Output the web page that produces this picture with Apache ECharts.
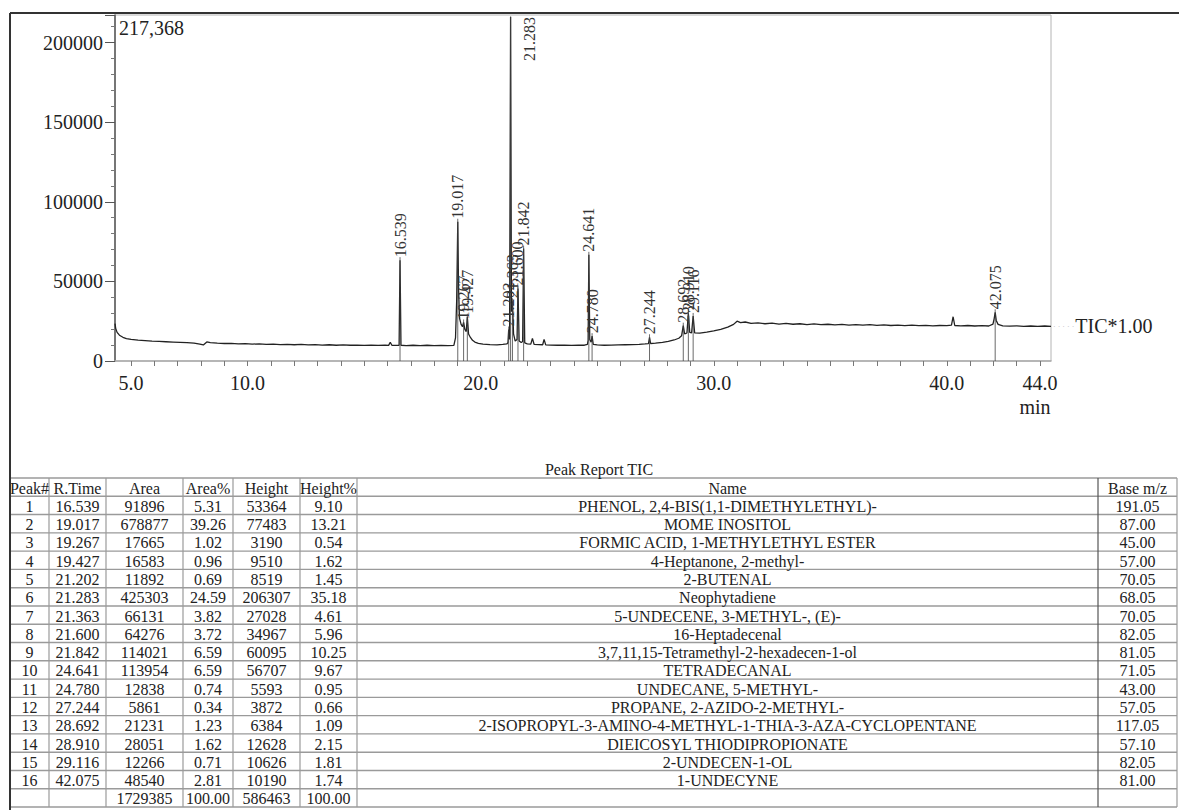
<!DOCTYPE html>
<html>
<head>
<meta charset="utf-8">
<title>TIC chromatogram - peak report</title>
<script src="https://cdn.jsdelivr.net/npm/echarts@6/dist/echarts.min.js"></script>
<style>
  html, body { margin: 0; padding: 0; background: #fff; }
  #chart { width: 1179px; height: 810px; }
</style>
</head>
<body>
<div id="chart"></div>
<script>
// TIC trace: [retention time (min), counts]
const ticTrace = [
  [4.31, 23500], [4.34, 20500], [4.40, 18000], [4.50, 16200], [4.65, 14900], [4.80, 14100],
  [5.00, 13600], [5.30, 13100], [5.60, 12800], [5.90, 12500], [6.20, 12300], [6.50, 12100],
  [6.80, 11900], [7.10, 11700], [7.40, 11500], [7.70, 11200], [7.95, 10600], [8.10, 10100],
  [8.25, 12000], [8.40, 11500], [8.70, 11200], [9.00, 11000], [9.30, 11100], [9.60, 10800],
  [9.90, 10900], [10.20, 10600], [10.50, 10800], [10.80, 10500], [11.10, 10600], [11.40, 10300],
  [11.70, 10500], [12.00, 10200], [12.30, 10400], [12.60, 10100], [12.90, 10300], [13.20, 10000],
  [13.50, 10200], [13.80, 9900], [14.10, 10100], [14.40, 9900], [14.70, 10000], [15.00, 9800],
  [15.30, 10000], [15.60, 9800], [15.90, 9900], [16.05, 9800], [16.12, 11800], [16.19, 9900],
  [16.45, 9800], [16.50, 9900], [16.539, 63364], [16.58, 9900], [16.80, 9700], [17.10, 9900],
  [17.40, 9700], [17.70, 9900], [18.00, 9700], [18.30, 9800], [18.60, 9700], [18.85, 9800],
  [18.92, 14500], [18.97, 38000], [19.017, 87483], [19.05, 46000], [19.09, 27000], [19.16, 23000],
  [19.22, 21500], [19.267, 24200], [19.32, 19800], [19.38, 18500], [19.427, 27800], [19.48, 17000],
  [19.56, 14800], [19.65, 13000], [19.75, 11900], [19.90, 11100], [20.10, 10600], [20.40, 10300],
  [20.70, 10100], [20.95, 10400], [21.12, 10700], [21.17, 11500], [21.202, 19800], [21.24, 13500],
  [21.283, 216300], [21.32, 31000], [21.363, 37500], [21.41, 17000], [21.48, 12500], [21.56, 13500],
  [21.600, 45500], [21.65, 12600], [21.74, 11600], [21.80, 12200], [21.842, 70600], [21.89, 11400],
  [22.00, 10800], [22.15, 10600], [22.22, 14200], [22.29, 10500], [22.50, 10300], [22.66, 10200],
  [22.72, 13600], [22.79, 10100], [23.00, 10000], [23.30, 9900], [23.60, 10000], [23.90, 9800],
  [24.20, 9900], [24.45, 9900], [24.58, 10500], [24.61, 13000], [24.641, 66700], [24.68, 13500],
  [24.74, 11800], [24.780, 15600], [24.83, 10500], [25.00, 10100], [25.30, 9900], [25.60, 10000],
  [25.90, 10100], [26.20, 10200], [26.50, 10300], [26.80, 10500], [27.05, 10700], [27.20, 10900],
  [27.244, 14900], [27.29, 11000], [27.50, 11200], [27.80, 11700], [28.05, 12300], [28.30, 13200],
  [28.50, 14300], [28.62, 15800], [28.692, 22200], [28.75, 17000], [28.85, 17600], [28.910, 30000],
  [28.97, 18000], [29.05, 17700], [29.116, 28300], [29.18, 17700], [29.40, 17500], [29.70, 18100],
  [30.00, 18900], [30.30, 19900], [30.60, 21300], [30.85, 23000], [31.00, 25000], [31.15, 24100],
  [31.35, 24500], [31.60, 23700], [31.90, 24000], [32.20, 23400], [32.50, 23800], [32.80, 23200],
  [33.10, 23600], [33.40, 23100], [33.70, 23400], [34.00, 22900], [34.30, 23300], [34.60, 22800],
  [34.90, 23100], [35.20, 22700], [35.50, 23000], [35.80, 22600], [36.10, 22900], [36.40, 22500],
  [36.70, 22800], [37.00, 22400], [37.30, 22700], [37.60, 22300], [37.90, 22600], [38.20, 22200],
  [38.50, 22500], [38.80, 22200], [39.10, 22400], [39.40, 22100], [39.70, 22300], [40.00, 22200],
  [40.20, 22600], [40.27, 27800], [40.34, 22300], [40.60, 22100], [40.90, 22300], [41.20, 22000],
  [41.50, 22200], [41.80, 22000], [41.98, 23200], [42.03, 26500], [42.075, 30600], [42.12, 25500],
  [42.20, 23000], [42.40, 22100], [42.70, 21900], [43.00, 22100], [43.30, 21800], [43.60, 22000],
  [43.90, 21800], [44.20, 22000], [44.47, 21800]
]

// peak report table
const peakNo = [1, 2, 3, 4, 5, 6, 7, 8, 9, 10, 11, 12, 13, 14, 15, 16]
const retTime = [16.539, 19.017, 19.267, 19.427, 21.202, 21.283, 21.363, 21.600,
  21.842, 24.641, 24.780, 27.244, 28.692, 28.910, 29.116, 42.075]
const peakArea = [91896, 678877, 17665, 16583, 11892, 425303, 66131, 64276,
  114021, 113954, 12838, 5861, 21231, 28051, 12266, 48540]
const areaPct = [5.31, 39.26, 1.02, 0.96, 0.69, 24.59, 3.82, 3.72,
  6.59, 6.59, 0.74, 0.34, 1.23, 1.62, 0.71, 2.81]
const peakHeight = [53364, 77483, 3190, 9510, 8519, 206307, 27028, 34967,
  60095, 56707, 5593, 3872, 6384, 12628, 10626, 10190]
const heightPct = [9.10, 13.21, 0.54, 1.62, 1.45, 35.18, 4.61, 5.96,
  10.25, 9.67, 0.95, 0.66, 1.09, 2.15, 1.81, 1.74]
const peakName = [
  'PHENOL, 2,4-BIS(1,1-DIMETHYLETHYL)-',
  'MOME INOSITOL',
  'FORMIC ACID, 1-METHYLETHYL ESTER',
  '4-Heptanone, 2-methyl-',
  '2-BUTENAL',
  'Neophytadiene',
  '5-UNDECENE, 3-METHYL-, (E)-',
  '16-Heptadecenal',
  '3,7,11,15-Tetramethyl-2-hexadecen-1-ol',
  'TETRADECANAL',
  'UNDECANE, 5-METHYL-',
  'PROPANE, 2-AZIDO-2-METHYL-',
  '2-ISOPROPYL-3-AMINO-4-METHYL-1-THIA-3-AZA-CYCLOPENTANE',
  'DIEICOSYL THIODIPROPIONATE',
  '2-UNDECEN-1-OL',
  '1-UNDECYNE'
]
const baseMz = [191.05, 87.00, 45.00, 57.00, 70.05, 68.05, 70.05, 82.05,
  81.05, 71.05, 43.00, 57.05, 117.05, 57.10, 82.05, 81.00]
const tableHeaders = ['Peak#', 'R.Time', 'Area', 'Area%', 'Height', 'Height%', 'Name', 'Base m/z']
const tableTotals = ['', '', '1729385', '100.00', '586463', '100.00', '', '']

// axis
const yTop = 217368
const xLabelValues = [5, 10, 20, 30, 40, 44]
const xTickValues = []
for (let m = 5; m <= 44; m++) xTickValues.push(m)

const serif = '"Liberation Serif", "DejaVu Serif", serif'
const ink = '#222'

// apex of every reported peak, taken from the trace itself
const peakPoints = retTime.map(function(t) {
  const hit = ticTrace.find(function(p) { return p[0] === t })
  return [t, hit ? hit[1] : 0]
})

// table made of graphic elements
function buildTable() {
  const colEdges = [10, 49, 106, 183, 233, 300, 357, 1098, 1177]
  const top = 478
  const rowH = 18.28
  const rows = [tableHeaders]
  for (let i = 0; i < peakNo.length; i++) {
    rows.push([
      String(peakNo[i]),
      retTime[i].toFixed(3),
      String(peakArea[i]),
      areaPct[i].toFixed(2),
      String(peakHeight[i]),
      heightPct[i].toFixed(2),
      peakName[i],
      baseMz[i].toFixed(2)
    ])
  }
  rows.push(tableTotals)

  const els = []
  // horizontal rules
  for (let r = 0; r <= rows.length; r++) {
    const y = top + r * rowH
    els.push({
      type: 'line',
      shape: { x1: colEdges[0], y1: y, x2: colEdges[colEdges.length - 1], y2: y },
      style: { stroke: '#9a9a9a', lineWidth: 1.4 }
    })
  }
  // vertical rules
  colEdges.forEach(function(x, i) {
    els.push({
      type: 'line',
      shape: { x1: x, y1: top, x2: x, y2: top + rows.length * rowH },
      style: { stroke: i === 7 ? '#555' : '#9a9a9a', lineWidth: i === 0 ? 2 : 1.2 }
    })
  })
  // cells
  rows.forEach(function(row, r) {
    row.forEach(function(txt, c) {
      if (!txt) return
      els.push({
        type: 'text',
        x: (colEdges[c] + colEdges[c + 1]) / 2,
        y: top + (r + 0.5) * rowH + 1,
        style: {
          text: txt, fontFamily: serif, fontSize: 16, fill: ink,
          align: 'center', verticalAlign: 'middle'
        }
      })
    })
  })
  els.push({
    type: 'text', x: 599, y: 469,
    style: { text: 'Peak Report TIC', fontFamily: serif, fontSize: 16, fill: ink, align: 'center', verticalAlign: 'middle' }
  })
  // outer frame (top and left)
  els.push({ type: 'line', shape: { x1: 10, y1: 13, x2: 1179, y2: 13 }, style: { stroke: '#333', lineWidth: 2 } })
  els.push({ type: 'line', shape: { x1: 10, y1: 13, x2: 10, y2: 810 }, style: { stroke: '#333', lineWidth: 2 } })
  return els
}

const chart = echarts.init(document.getElementById('chart'), null, { renderer: 'svg' })
chart.setOption({
  backgroundColor: '#fff',
  animation: false,
  grid: { left: 115, top: 15, width: 936, height: 346, show: true, borderColor: '#b4b4b4', borderWidth: 1 },
  xAxis: {
    type: 'value',
    min: 4.31,
    max: 44.47,
    name: 'min',
    nameLocation: 'end',
    nameGap: -16,
    nameTextStyle: {
      fontFamily: serif, fontSize: 20, color: ink,
      align: 'center', verticalAlign: 'top', padding: [36, 0, 0, 0]
    },
    axisLine: { onZero: false, lineStyle: { color: '#aaa', width: 1.5 } },
    axisTick: { customValues: xTickValues, length: 5, lineStyle: { color: '#777' } },
    axisLabel: {
      customValues: xLabelValues,
      formatter: function(v) { return Number(v).toFixed(1) },
      fontFamily: serif, fontSize: 20, color: ink, margin: 12
    },
    splitLine: { show: false }
  },
  yAxis: {
    type: 'value',
    min: 0,
    max: yTop,
    interval: 50000,
    name: '217,368',
    nameLocation: 'end',
    nameGap: -13,
    nameTextStyle: {
      fontFamily: serif, fontSize: 20, color: ink,
      align: 'left', verticalAlign: 'middle', padding: [0, 0, 0, 4]
    },
    axisLine: { show: true, lineStyle: { color: '#555', width: 1.5 } },
    axisTick: { show: true, length: 10, lineStyle: { color: '#555' } },
    minorTick: { show: true, splitNumber: 5, length: 4, lineStyle: { color: '#777' } },
    axisLabel: {
      showMaxLabel: false,
      formatter: function(v) { return String(v) },
      fontFamily: serif, fontSize: 20, color: ink, margin: 12
    },
    splitLine: { show: false }
  },
  series: [
    {
      name: 'TIC',
      type: 'line',
      data: ticTrace,
      showSymbol: false,
      symbol: 'none',
      lineStyle: { color: '#222', width: 1.3 },
      endLabel: {
        show: true,
        distance: 2,
        formatter: '{d|· · · · ·}TIC*1.00',
        fontFamily: serif,
        fontSize: 20,
        color: ink,
        rich: { d: { color: '#bbb', fontSize: 8, padding: [0, 1, 0, 0] } }
      },
      z: 2
    },
    {
      // retention time markers with rotated labels
      type: 'custom',
      data: peakPoints,
      clip: false,
      z: 3,
      renderItem: function(params, api) {
        const t = api.value(0)
        const base = api.coord([t, 0])
        const apex = api.coord([t, api.value(1)])
        const text = retTime[params.dataIndex].toFixed(3)
        const len = 44
        const plotTop = params.coordSys.y
        let tx = apex[0]
        let ty = apex[1] - 3
        let lineEnd = ty
        if (ty - len < plotTop) {
          // no room above the apex: put it beside the peak
          tx = apex[0] + 19
          ty = plotTop + len + 2
          lineEnd = apex[1]
        }
        return {
          type: 'group',
          children: [
            {
              type: 'line',
              shape: { x1: apex[0], y1: base[1], x2: apex[0], y2: lineEnd },
              style: { stroke: '#444', lineWidth: 0.8 }
            },
            {
              type: 'text',
              x: tx,
              y: ty,
              rotation: Math.PI / 2,
              style: {
                text: text, fontFamily: serif, fontSize: 16, fill: '#333',
                align: 'left', verticalAlign: 'middle'
              }
            }
          ]
        }
      }
    }
  ],
  graphic: { elements: buildTable() }
})
</script>
</body>
</html>
